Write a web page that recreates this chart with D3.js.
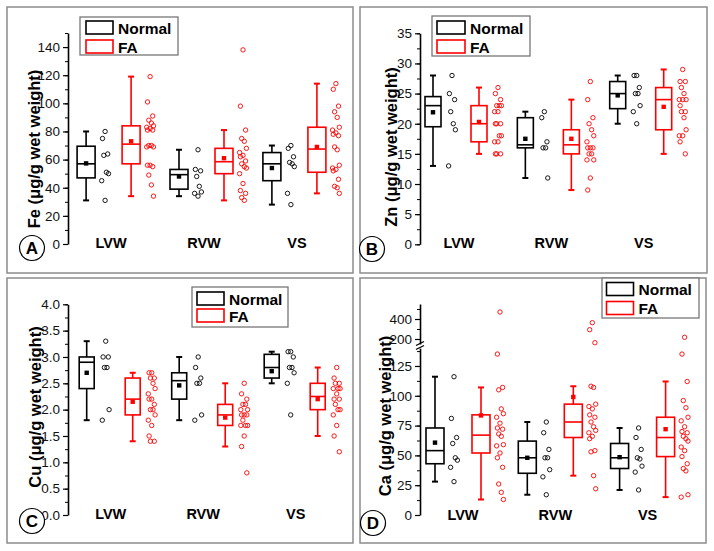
<!DOCTYPE html>
<html><head><meta charset="utf-8">
<script src="https://cdn.jsdelivr.net/npm/d3@7"></script>
<style>
body{margin:0;background:#fff}
svg{display:block}
text{font-family:Arial,"Liberation Sans",Helvetica,sans-serif}
</style>
</head><body>
<svg id="chart" width="714" height="551"></svg>
<script>
const categories = ["LVW", "RVW", "VS"];
const groups = ["Normal", "FA"];
const panelLetters = ["A", "B", "C", "D"];
const yTitles = ["Fe (μg/g wet weight)", "Zn (μg/g wet weight)", "Cu (μg/g wet weight)", "Ca (μg/g wet weight)"];

// ---- Fe (panel A) ----
const feTicks = [0, 20, 40, 60, 80, 100, 120, 140];
const feNormalPts = [[80, 75, 64, 63, 51, 50, 45, 31], [67, 53, 52, 48, 41, 37, 36, 34], [70, 68, 62, 58, 57, 55, 36, 28]];
const feFAPts = [[119, 101, 91, 88, 86, 84, 83, 82, 81, 81, 70, 70, 69, 69, 56, 56, 55, 49, 42, 34],
                 [138, 98, 81, 75, 73, 68, 65, 63, 62, 59, 57, 55, 54, 50, 43, 38, 36, 33, 31],
                 [114, 110, 98, 94, 90, 83, 81, 79, 78, 77, 69, 67, 56, 54, 53, 52, 46, 41, 40, 36]];
// box stats: [whisker low, Q1, median, Q3, whisker high, mean]
const feNormalBox = [[31, 47, 57, 69.5, 80, 57.3], [34, 39, 49.3, 53, 67, 48], [28, 45, 57, 65, 70, 54]];
const feFABox = [[34, 57, 71, 84, 119, 73], [31, 50, 58.5, 68, 81, 61], [36, 51, 67.5, 83, 114, 69]];

// ---- Zn (panel B) ----
const znTicks = [0, 5, 10, 15, 20, 25, 30, 35];
const znNormalPts = [[28, 25, 24, 22, 20, 19, 13], [22, 21, 17, 16, 16, 11], [28, 28, 26, 25, 25, 23, 22, 20]];
const znFAPts = [[26, 25, 24, 23, 23, 23, 22, 22, 20, 20, 20, 18, 18, 17, 17, 15, 15, 15],
                 [27, 24, 21, 20, 19, 18, 17, 16, 16, 16, 15, 15, 14, 14, 11, 9],
                 [29, 27, 27, 26, 25, 24, 24, 24, 23, 22, 22, 21, 19, 18, 18, 17, 15]];
const znNormalBox = [[13, 19.5, 23, 24.5, 28, 21.9], [11, 16, 16.5, 21, 22, 17.5], [20, 22.5, 25, 27, 28, 24.7]];
const znFABox = [[15, 17, 20, 23, 26, 20.3], [9, 15, 16.5, 19, 24, 17.5], [15, 19, 24, 26, 29, 22.8]];

// ---- Cu (panel C) ----
const cuTicks = [0, 0.5, 1.0, 1.5, 2.0, 2.5, 3.0, 3.5, 4.0];
const cuNormalPts = [[3.3, 3.0, 3.0, 2.8, 2.8, 2.0, 1.8], [3.0, 2.8, 2.6, 2.5, 2.5, 1.9, 1.8], [3.1, 3.1, 3.0, 2.8, 2.8, 2.7, 2.5, 1.9]];
const cuFAPts = [[2.7, 2.7, 2.6, 2.6, 2.5, 2.4, 2.3, 2.2, 2.2, 2.1, 2.0, 2.0, 1.9, 1.8, 1.7, 1.5, 1.4, 1.4],
                 [2.5, 2.3, 2.2, 2.1, 2.1, 2.0, 2.0, 1.9, 1.9, 1.9, 1.8, 1.7, 1.7, 1.7, 1.5, 1.3, 0.8],
                 [2.8, 2.6, 2.5, 2.5, 2.4, 2.4, 2.4, 2.3, 2.2, 2.2, 2.1, 2.0, 2.0, 1.9, 1.7, 1.5, 1.2]];
const cuNormalBox = [[1.8, 2.4, 2.9, 3.0, 3.3, 2.7], [1.8, 2.2, 2.55, 2.7, 3.0, 2.46], [2.5, 2.6, 2.8, 3.05, 3.1, 2.73]];
const cuFABox = [[1.4, 1.9, 2.2, 2.6, 2.7, 2.15], [1.3, 1.7, 1.9, 2.1, 2.5, 1.85], [1.5, 2.0, 2.25, 2.5, 2.8, 2.2]];

// ---- Ca (panel D, broken axis) ----
const caTicksLow = [0, 25, 50, 75, 100, 125];
const caTicksHigh = [200, 400];
const caNormalPts = [[116, 81, 65, 60, 48, 46, 40, 28], [78, 69, 55, 48, 48, 38, 32, 17], [73, 65, 55, 48, 47, 41, 36, 21]];
const caFAPts = [[470, 135, 107, 105, 89, 85, 82, 77, 73, 72, 68, 66, 59, 58, 52, 48, 40, 26, 19, 13],
                 [363, 293, 163, 108, 107, 93, 91, 89, 84, 82, 78, 74, 71, 69, 66, 64, 54, 53, 33, 22],
                 [217, 135, 112, 96, 90, 82, 79, 74, 70, 69, 66, 64, 62, 57, 54, 49, 43, 39, 37, 17, 15]];
const caNormalBox = [[28, 43, 54, 73, 116, 60.7], [17, 35, 48, 62, 78, 48], [21, 39, 48, 60, 73, 48.5]];
const caFABox = [[13, 52, 67, 84, 107, 83.5], [33, 65, 78, 93, 108, 99], [15, 49, 65, 82, 112, 72]];

const colors = {Normal: "#000000", FA: "#ff0000"};
const svg = d3.select("#chart");
const FONT = 'Arial,"Liberation Sans",Helvetica,sans-serif';

// y scales
const yFe = d3.scaleLinear().domain([0, 150]).range([244, 33]);
const yZn = d3.scaleLinear().domain([0, 35]).range([244.3, 33.3]);
const yCu = d3.scaleLinear().domain([0, 4]).range([515, 304.3]);
const yCaLow = d3.scaleLinear().domain([0, 140]).range([515, 348.1]);
const yCaHigh = d3.scaleLinear().domain([150, 550]).range([344, 304]);
const yCa = v => (v <= 145 ? yCaLow(v) : yCaHigh(v));

const panels = [
  {frame: [7, 7, 346, 266], axisX: 68, y: yFe, centers: [108.6, 294.4], off: 22.5, boxW: 18, labelDx: 2.5, labelY: 248,
   legend: [80, 17, 98, 38], swatch: [6, 4, 27, 13, 19], circle: [32, 248], titleC: [33.5, 149],
   normal: feNormalPts, fa: feFAPts, nbox: feNormalBox, fbox: feFABox,
   axes: [{scale: yFe, ticks: feTicks, minor: d3.range(0, 151, 10), fmt: d3.format("d")}]},
  {frame: [360, 7, 347, 266], axisX: 420, y: yZn, centers: [456, 640.7], off: 23, boxW: 16, labelDx: 3, labelY: 248.3,
   legend: [432, 16, 98, 40], swatch: [5, 5, 28, 13, 19], circle: [372, 249], titleC: [391, 147],
   normal: znNormalPts, fa: znFAPts, nbox: znNormalBox, fbox: znFABox,
   axes: [{scale: yZn, ticks: znTicks, minor: d3.range(0, 35.1, 2.5), fmt: d3.format("d")}]},
  {frame: [7, 278, 346, 265], axisX: 68, y: yCu, centers: [109.7, 294.7], off: 23, boxW: 15, labelDx: 1, labelY: 519,
   legend: [192, 287, 96, 40], swatch: [5, 5, 27, 13, 17], circle: [32, 521], titleC: [35, 407],
   normal: cuNormalPts, fa: cuFAPts, nbox: cuNormalBox, fbox: cuFABox,
   axes: [{scale: yCu, ticks: cuTicks, minor: d3.range(0, 4.01, 0.25), fmt: d3.format(".1f")}]},
  {frame: [360, 278, 346, 265], axisX: 420, y: yCa, centers: [458, 642.6], off: 23, boxW: 18, labelDx: 5, labelY: 520,
   legend: [602, 278, 97, 40], swatch: [4.5, 4.5, 27, 13, 19], circle: [373, 523], titleC: [385, 416],
   normal: caNormalPts, fa: caFAPts, nbox: caNormalBox, fbox: caFABox,
   axes: [{scale: yCaLow, ticks: caTicksLow, minor: d3.range(0, 140, 12.5), fmt: d3.format("d")},
          {scale: yCaHigh, ticks: caTicksHigh, minor: [300, 500], fmt: d3.format("d")}],
   brk: true}
];

const jit = [0, -2.6, 2.6, -1.3, 1.3, 3.4, -3.4];

panels.forEach((c, pi) => {
  const g = svg.append("g");
  // frame
  g.append("rect").attr("x", c.frame[0]).attr("y", c.frame[1]).attr("width", c.frame[2]).attr("height", c.frame[3])
    .attr("fill", "none").attr("stroke", "#8c8c8c").attr("stroke-width", 1.5);

  // axes
  c.axes.forEach(a => {
    const ag = g.append("g").attr("transform", `translate(${c.axisX},0)`)
      .call(d3.axisLeft(a.scale).tickValues(a.ticks).tickSize(5).tickSizeOuter(0).tickPadding(3).tickFormat(a.fmt));
    ag.select(".domain").attr("stroke-width", 1.6);
    ag.selectAll(".tick line").attr("stroke-width", 1.2);
    ag.selectAll("text").attr("font-size", 13.5).attr("font-family", FONT).attr("fill", "#111");
    const mg = g.append("g").attr("transform", `translate(${c.axisX},0)`)
      .call(d3.axisLeft(a.scale).tickValues(a.minor).tickSize(3).tickSizeOuter(0).tickFormat(""));
    mg.select(".domain").remove();
    mg.selectAll(".tick line").attr("stroke-width", 1);
  });
  if (c.brk) {
    [343.5, 347.5].forEach(yb => {
      g.append("line").attr("x1", c.axisX - 4).attr("x2", c.axisX + 4).attr("y1", yb + 2).attr("y2", yb - 2)
        .attr("stroke", "#000").attr("stroke-width", 1.3);
    });
  }

  // y title
  g.append("text").attr("transform", `translate(${c.titleC[0]},${c.titleC[1]}) rotate(-90)`)
    .attr("text-anchor", "middle").attr("dominant-baseline", "central")
    .attr("font-size", 16.5).attr("font-weight", "bold").attr("font-family", FONT).text(yTitles[pi]);

  const xc = d3.scalePoint().domain(categories).range(c.centers);

  // category labels
  categories.forEach(cat => {
    g.append("text").attr("x", xc(cat) + c.labelDx).attr("y", c.labelY).attr("text-anchor", "middle")
      .attr("font-size", 14.5).attr("font-weight", "bold").attr("font-family", FONT).text(cat);
  });

  const series = [{name: "Normal", pts: c.normal, box: c.nbox, dx: -c.off}, {name: "FA", pts: c.fa, box: c.fbox, dx: c.off}];
  series.forEach(s => {
    const col = colors[s.name];
    categories.forEach((cat, ci) => {
      const cx = xc(cat) + s.dx;
      const [lo, q1, med, q3, hi, mean] = s.box[ci];
      const y = c.y;
      const bw = c.boxW;
      // whiskers
      g.append("line").attr("x1", cx).attr("x2", cx).attr("y1", y(q3)).attr("y2", y(hi)).attr("stroke", col).attr("stroke-width", 1.6);
      g.append("line").attr("x1", cx).attr("x2", cx).attr("y1", y(q1)).attr("y2", y(lo)).attr("stroke", col).attr("stroke-width", 1.6);
      [lo, hi].forEach(v => g.append("line").attr("x1", cx - 3).attr("x2", cx + 3).attr("y1", y(v)).attr("y2", y(v))
        .attr("stroke", col).attr("stroke-width", 2));
      // box
      g.append("rect").attr("x", cx - bw / 2).attr("y", y(q3)).attr("width", bw).attr("height", y(q1) - y(q3))
        .attr("fill", "none").attr("stroke", col).attr("stroke-width", 1.6);
      g.append("line").attr("x1", cx - bw / 2).attr("x2", cx + bw / 2).attr("y1", y(med)).attr("y2", y(med))
        .attr("stroke", col).attr("stroke-width", 1.6);
      // mean
      g.append("rect").attr("x", cx - 2.2).attr("y", y(mean) - 2.2).attr("width", 4.4).attr("height", 4.4).attr("fill", col);
      // points
      s.pts[ci].forEach((v, i) => {
        g.append("circle").attr("cx", cx + 19 + jit[i % jit.length]).attr("cy", y(v)).attr("r", 2.2)
          .attr("fill", "none").attr("stroke", col).attr("stroke-width", 0.9);
      });
    });
  });

  // legend
  const [lx, ly, lw, lh] = c.legend;
  const [sx, sy, sw, sh, gap] = c.swatch;
  g.append("rect").attr("x", lx).attr("y", ly).attr("width", lw).attr("height", lh).attr("fill", "#fff")
    .attr("stroke", "#777").attr("stroke-width", 1.3);
  groups.forEach((gr, i) => {
    g.append("rect").attr("x", lx + sx).attr("y", ly + sy + i * gap).attr("width", sw).attr("height", sh)
      .attr("fill", "none").attr("stroke", colors[gr]).attr("stroke-width", 1.6);
    g.append("text").attr("x", lx + sx + sw + 5).attr("y", ly + sy + i * gap + sh / 2 + 0.5)
      .attr("dominant-baseline", "central").attr("font-size", 15.5).attr("font-weight", "bold").attr("font-family", FONT).text(gr);
  });

  // panel letter
  g.append("circle").attr("cx", c.circle[0]).attr("cy", c.circle[1]).attr("r", 12.5).attr("fill", "#fff")
    .attr("stroke", "#000").attr("stroke-width", 1.2);
  g.append("text").attr("x", c.circle[0]).attr("y", c.circle[1] + 0.5).attr("text-anchor", "middle").attr("dominant-baseline", "central")
    .attr("font-size", 17).attr("font-weight", "bold").attr("font-family", FONT).text(panelLetters[pi]);
});
</script>
</body></html>
